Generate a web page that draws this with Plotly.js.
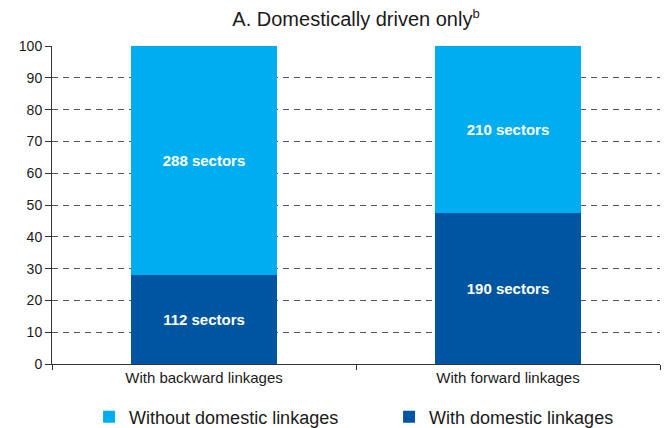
<!DOCTYPE html>
<html>
<head>
<meta charset="utf-8">
<script src="https://cdn.plot.ly/plotly-3.0.1.min.js"></script>
<style>html,body{margin:0;padding:0;background:#fff;}#chart{width:669px;height:428px;}</style>
</head>
<body>
<div id="chart"></div>
<script>
const categories = ["With backward linkages", "With forward linkages"];
const withDomesticSectors = [112, 190];
const withoutDomesticSectors = [288, 210];
const totalSectors = [400, 400];
const withDomesticPct = withDomesticSectors.map((v, i) => v / totalSectors[i] * 100);
const withoutDomesticPct = withoutDomesticSectors.map((v, i) => v / totalSectors[i] * 100);
const yTicks = [0, 10, 20, 30, 40, 50, 60, 70, 80, 90, 100];

const FONT = "Liberation Sans, Arial, sans-serif";

const traces = [
  {
    type: "bar",
    name: "With domestic linkages",
    x: categories,
    y: withDomesticPct,
    text: withDomesticSectors.map(v => v + " sectors"),
    textposition: "inside",
    insidetextanchor: "middle",
    textfont: {family: FONT, size: 15, color: "#ffffff", weight: "bold"},
    marker: {color: "#0055A0"},
    width: 0.48,
    hoverinfo: "none"
  },
  {
    type: "bar",
    name: "Without domestic linkages",
    x: categories,
    y: withoutDomesticPct,
    text: withoutDomesticSectors.map(v => v + " sectors"),
    textposition: "inside",
    insidetextanchor: "middle",
    textfont: {family: FONT, size: 15, color: "#ffffff", weight: "bold"},
    marker: {color: "#00AEEF"},
    width: 0.48,
    hoverinfo: "none"
  }
];

const layout = {
  width: 669,
  height: 428,
  margin: {l: 52, r: 9, t: 46, b: 64, autoexpand: false},
  barmode: "stack",
  paper_bgcolor: "#ffffff",
  plot_bgcolor: "#ffffff",
  font: {family: FONT, color: "#1a1a1a"},
  title: {
    text: "A. Domestically driven only<sup><span style=\"font-size:13px\">b</span></sup>",
    font: {family: FONT, size: 20, color: "#1a1a1a"},
    x: 0.5,
    xanchor: "center",
    xref: "paper",
    y: 0.955,
    yanchor: "middle"
  },
  xaxis: {
    type: "category",
    range: [-0.5, 1.5],
    showline: true,
    linecolor: "#333333",
    linewidth: 1,
    ticks: "outside",
    tickson: "boundaries",
    ticklen: 5,
    tickcolor: "#333333",
    tickfont: {family: FONT, size: 15, color: "#1a1a1a"},
    showgrid: false,
    zeroline: false
  },
  yaxis: {
    range: [0, 100],
    tickvals: yTicks,
    ticktext: yTicks.map(String),
    showline: true,
    linecolor: "#333333",
    linewidth: 1,
    ticks: "outside",
    ticklen: 6,
    tickcolor: "#333333",
    tickfont: {family: FONT, size: 14, color: "#1a1a1a"},
    showgrid: true,
    gridcolor: "#555555",
    gridwidth: 1,
    griddash: "6px,5px",
    zeroline: false
  },
  showlegend: true,
  legend: {
    orientation: "h",
    traceorder: "reversed",
    x: 0.5544,
    xanchor: "center",
    y: -0.167,
    yanchor: "middle",
    font: {family: FONT, size: 18, color: "#1a1a1a"},
    itemwidth: 30,
    entrywidth: 255
  }
};

Plotly.newPlot("chart", traces, layout, {displayModeBar: false, staticPlot: true});
</script>
</body>
</html>
